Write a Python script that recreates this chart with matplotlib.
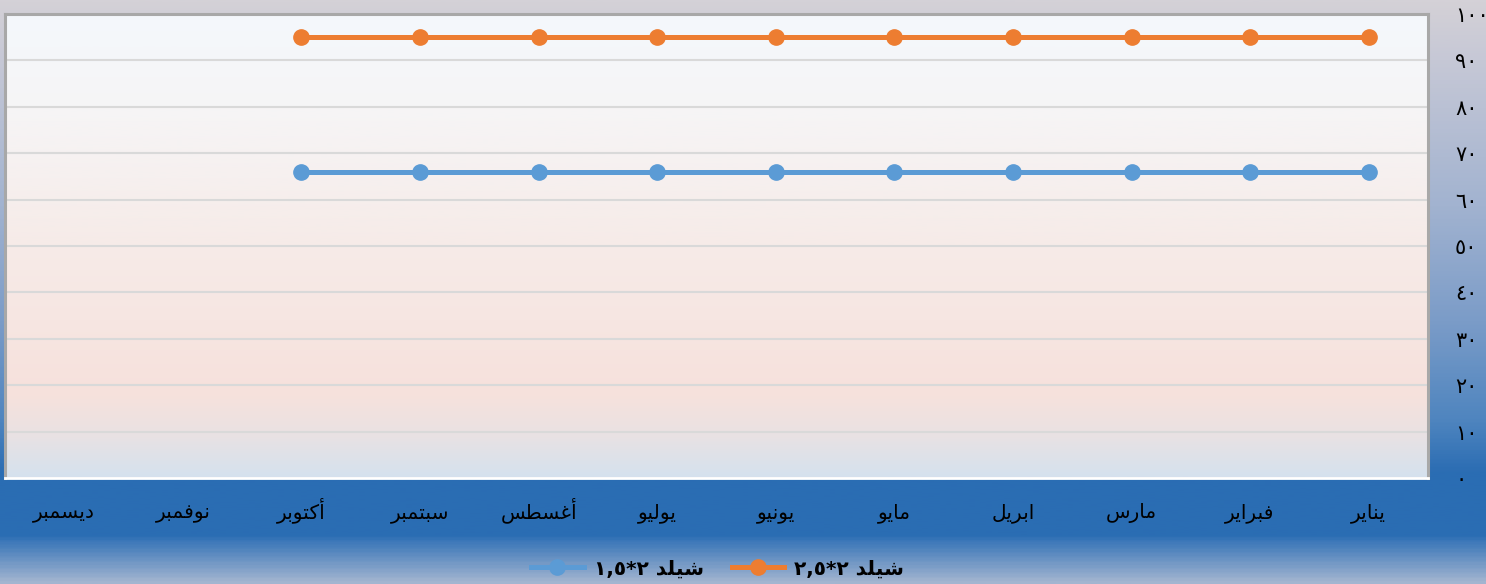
import numpy as np
import matplotlib
matplotlib.use('Agg')
import matplotlib.pyplot as plt
from matplotlib.colors import LinearSegmentedColormap
from matplotlib.lines import Line2D

# --- data ---
months = ['يناير', 'فبراير', 'مارس', 'ابريل', 'مايو', 'يونيو',
          'يوليو', 'أغسطس', 'سبتمبر', 'أكتوبر', 'نوفمبر', 'ديسمبر']
series_names = ['شيلد ٢,٥*٢', 'شيلد ١,٥*٢']
shield_25 = [95, 95, 95, 95, 95, 95, 95, 95, 95, 95, None, None]
shield_15 = [66, 66, 66, 66, 66, 66, 66, 66, 66, 66, None, None]
y_ticks = [0, 10, 20, 30, 40, 50, 60, 70, 80, 90, 100]

# --- minimal arabic shaping (matplotlib has no complex text layout) ---
DUAL = {'ب': 0xFE8F, 'ت': 0xFE95, 'س': 0xFEB1, 'ش': 0xFEB5, 'ط': 0xFEC1,
        'غ': 0xFECD, 'ف': 0xFED1, 'ك': 0xFED9, 'ل': 0xFEDD, 'م': 0xFEE1,
        'ن': 0xFEE5, 'ي': 0xFEF1}
RIGHT = {'ا': 0xFE8D, 'أ': 0xFE83, 'د': 0xFEA9, 'ر': 0xFEAD, 'و': 0xFEED}


def shape_word(word):
    if not any(c in DUAL or c in RIGHT for c in word):
        return word
    out = []
    for i, ch in enumerate(word):
        prev = word[i - 1] if i > 0 else ''
        nxt = word[i + 1] if i + 1 < len(word) else ''
        base = DUAL.get(ch, RIGHT.get(ch))
        if base is None:
            out.append(ch)
            continue
        jp = prev in DUAL
        jn = ch in DUAL and (nxt in DUAL or nxt in RIGHT)
        form = 3 if (jp and jn) else 1 if jp else 2 if jn else 0
        if ch in RIGHT and form > 1:
            form = 1 if jp else 0
        out.append(chr(base + form))
    return ''.join(reversed(out))


def visual(text):
    return ' '.join(shape_word(w) for w in reversed(text.split(' ')))


def ar_digits(n):
    return str(n).translate(str.maketrans('0123456789', '٠١٢٣٤٥٦٧٨٩'))


plt.rcParams['font.family'] = ['DejaVu Sans']

W, H = 1486, 584
fig = plt.figure(figsize=(W / 100, H / 100), dpi=100)

# figure background gradient
bg = fig.add_axes([0, 0, 1, 1], zorder=-10)
bg_cmap = LinearSegmentedColormap.from_list('bg', [
    (0.00, '#d4d1d7'), (0.10, '#c6c8d6'), (0.35, '#a2b3d0'),
    (0.55, '#7b9cc8'), (0.72, '#4f85bf'), (0.81, '#2b6db3'),
    (0.92, '#2a6db3'), (0.93, '#3d78b9'), (1.00, '#a3b5d0')])
bg.imshow(np.linspace(0, 1, 400)[:, None], cmap=bg_cmap, aspect='auto',
          extent=[0, 1, 0, 1], origin='upper')
bg.set_xlim(0, 1)
bg.set_ylim(0, 1)
bg.axis('off')

ax = fig.add_axes([5 / W, (H - 478) / H, (1428 - 5) / W, (478 - 14) / H])
ax.set_facecolor('none')
plot_cmap = LinearSegmentedColormap.from_list('pa', [
    (0.00, '#f4f8fc'), (0.20, '#f6f5f6'), (0.50, '#f6ebe8'),
    (0.82, '#f7e1dc'), (0.90, '#ebe2e2'), (1.00, '#d5e1ee')])
ax.imshow(np.linspace(0, 1, 300)[:, None], cmap=plot_cmap, aspect='auto',
          extent=[0, 1, 0, 1], transform=ax.transAxes, origin='upper', zorder=0)

x = np.arange(len(months))
for vals, color in [(shield_25, '#ed7d31'), (shield_15, '#5b9bd5')]:
    y = np.array([np.nan if v is None else v for v in vals], dtype=float)
    ax.plot(x, y, color=color, lw=3.6, marker='o', markersize=11,
            solid_capstyle='round', zorder=3)

ax.set_xlim(len(months) - 0.5, -0.5)
ax.set_ylim(0, 100)
ax.set_xticks(x)
ax.set_xticklabels([visual(m) for m in months], fontsize=14.5, va='baseline')
ax.set_yticks(y_ticks)
ax.set_yticklabels([ar_digits(v) for v in y_ticks], fontsize=15, ha='left')
ax.yaxis.tick_right()
ax.tick_params(axis='y', length=0, pad=19.5)
ax.tick_params(axis='x', length=0, pad=29)
ax.grid(axis='y', color='#d9d9d9', lw=1.5, zorder=1)
ax.set_axisbelow(True)

for side in ['top', 'left', 'right']:
    ax.spines[side].set_color('#a8a8a8')
    ax.spines[side].set_linewidth(2.2)
ax.spines['bottom'].set_color('white')
ax.spines['bottom'].set_linewidth(2)

handles = [Line2D([], [], color='#5b9bd5', lw=3.6, marker='o', markersize=11),
           Line2D([], [], color='#ed7d31', lw=3.6, marker='o', markersize=11)]
labels = [visual(series_names[1]), visual(series_names[0])]
fig.legend(handles, labels, loc='center', bbox_to_anchor=(0.483, 0.026),
           ncol=2, frameon=False, handlelength=2.6, handletextpad=0.5,
           columnspacing=1.4, prop={'size': 14.5, 'weight': 'bold'})

fig.savefig('out.png', dpi=100)
